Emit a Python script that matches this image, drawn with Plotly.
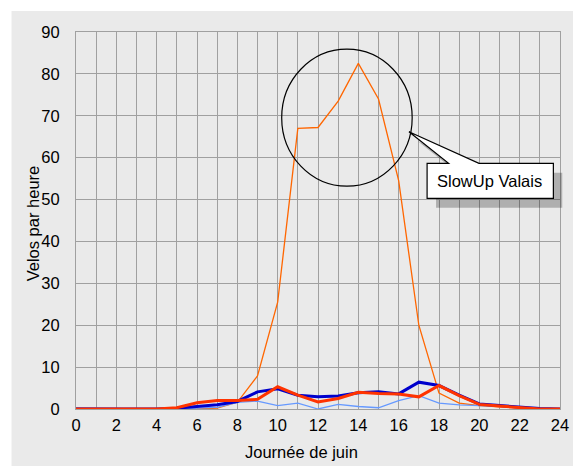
import plotly.graph_objects as go

heures = list(range(25))

slowup = [0, 0, 0, 0, 0, 0, 0, 0.2, 1.6, 7.9, 25.5, 67, 67.2, 73.5, 82.5, 74, 54.5, 20, 3.8, 1.4, 0.8, 0.5, 0.3, 0, 0]
bleu_fonce = [0, 0, 0, 0, 0, 0.2, 0.6, 1.0, 1.8, 4.1, 4.8, 3.3, 2.9, 3.1, 3.9, 4.1, 3.6, 6.4, 5.6, 3.3, 1.2, 0.8, 0.5, 0.1, 0]
rouge = [0, 0, 0, 0, 0, 0.3, 1.5, 2.0, 2.0, 2.3, 5.3, 3.3, 1.7, 2.5, 4.0, 3.7, 3.6, 2.9, 5.6, 3.2, 1.1, 0.7, 0.4, 0, 0]
bleu_clair = [0.3, 0.2, 0, 0, 0, 0, 0.2, 0.4, 1.6, 1.9, 0.8, 1.4, 0, 1.1, 0.6, 0.3, 2.0, 3.2, 1.4, 1.0, 0.8, 0.6, 0.4, 0.1, 0]

fig = go.Figure()
fig.add_trace(go.Scatter(x=heures, y=slowup, mode="lines", line=dict(color="#FF6600", width=1.3)))
fig.add_trace(go.Scatter(x=heures, y=bleu_clair, mode="lines", line=dict(color="#6699FF", width=1.3)))
fig.add_trace(go.Scatter(x=heures, y=bleu_fonce, mode="lines", line=dict(color="#0000CC", width=3)))
fig.add_trace(go.Scatter(x=heures, y=rouge, mode="lines", line=dict(color="#FF3300", width=3)))

# page has an 8px body margin; positions below are screen pixels
OFF = 8
W, H = 581 - OFF, 466 - OFF
L, R, T, B = 76 - OFF, 564 - OFF, 32 - OFF, 409 - OFF


def px(x):
    return (x - OFF - L) / (R - L)


def py(y):
    return (B - (y - OFF)) / (B - T)


def path(points):
    return "M " + " L ".join(f"{px(a):.4f},{py(b):.4f}" for a, b in points) + " Z"


callout = [(430, 163.3), (451.7, 163.3), (411.7, 131.7), (482.3, 163.3),
           (557.3, 163.3), (557.3, 198.3), (430, 198.3)]
ombre = [(a + 9, b + 9.5) for a, b in callout]

shapes = [
    dict(type="rect", xref="paper", yref="paper", layer="below",
         x0=px(11), x1=px(590), y0=py(480), y1=py(11),
         fillcolor="#EAEAEA", line=dict(width=0)),
    dict(type="circle", xref="x", yref="y", x0=10.2, x1=16.67, y0=53.2, y1=85.9,
         line=dict(color="black", width=1.2)),
    dict(type="path", xref="paper", yref="paper", path=path(ombre),
         fillcolor="rgba(0,0,0,0.25)", line=dict(width=0)),
    dict(type="path", xref="paper", yref="paper", path=path(callout),
         fillcolor="white", line=dict(color="black", width=1.2)),
]


def texte(t, x, y, angle=0, size=16.5):
    return dict(text=t, xref="paper", yref="paper", x=px(x), y=py(y),
                xanchor="center", yanchor="middle", textangle=angle,
                showarrow=False, font=dict(size=size))


fig.update_layout(
    width=W, height=H,
    margin=dict(l=L, r=W - R, t=T, b=H - B),
    paper_bgcolor="white",
    plot_bgcolor="rgba(0,0,0,0)",
    showlegend=False,
    font=dict(family="Liberation Sans, Arial, sans-serif", color="black", size=16.5),
    shapes=shapes,
    annotations=[
        texte("SlowUp Valais", 493, 181),
        texte("Journée de juin", 303, 452),
        texte("Velos par heure", 33, 223, angle=-90),
    ],
)
fig.update_xaxes(
    range=[0, 24], dtick=2, tick0=0,
    showgrid=True, gridcolor="#A0A0A0", gridwidth=1,
    minor=dict(dtick=1, showgrid=True, gridcolor="#A0A0A0", gridwidth=1),
    showline=True, linecolor="#A0A0A0", mirror=True,
    zeroline=False, ticks="", ticklabelstandoff=1,
)
fig.update_yaxes(
    range=[0, 90], dtick=10,
    showgrid=True, gridcolor="#A0A0A0", gridwidth=1,
    showline=True, linecolor="#A0A0A0", mirror=True,
    zeroline=False, ticks="", ticklabelstandoff=12,
)

fig.write_html("out.html")
